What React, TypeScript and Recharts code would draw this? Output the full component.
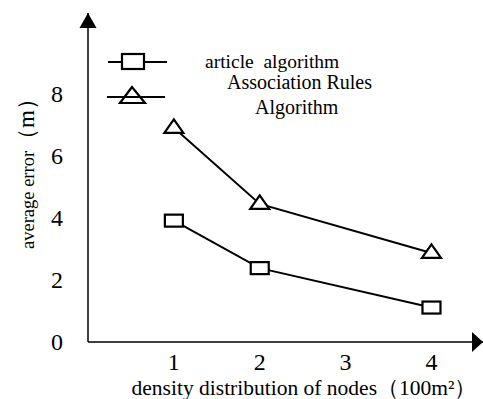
import React from "react";
import { LineChart, Line, XAxis, YAxis, ReferenceDot, Legend } from "recharts";

// node density (100 m²) where errors were measured
const densities = [1, 2, 4];
const xTicks = [1, 2, 3, 4];
const yTicks = [0, 2, 4, 6, 8];
// average error (m)
const articleError = [3.91, 2.38, 1.11];
const associationError = [6.9, 4.45, 2.87];
const legendLines = ["article  algorithm", "Association Rules", "Algorithm"];

const X_MAX = 4.6;
const Y_MAX = 10.6;
const FONT = '"Liberation Serif", serif';
const serif = (size: number): React.CSSProperties => ({ fontFamily: FONT, fontSize: size });

const data = densities.map((d, i) => ({
  density: d,
  article: articleError[i],
  association: associationError[i],
}));

const Square = (props: any) => {
  const { cx, cy, index } = props;
  if (cx == null || cy == null) return <g key={index} />;
  return (
    <rect key={index} x={cx - 9} y={cy - 6} width={18} height={12}
      fill="#fff" stroke="#000" strokeWidth={2.2} />
  );
};

const Triangle = (props: any) => {
  const { cx, cy, index } = props;
  if (cx == null || cy == null) return <g key={index} />;
  return (
    <polygon key={index}
      points={`${cx},${cy - 8.5} ${cx - 9.5},${cy + 5} ${cx + 9.5},${cy + 5}`}
      fill="#fff" stroke="#000" strokeWidth={2.2} />
  );
};

const ArrowUp = ({ cx, cy }: any) => (
  <polygon points={`${cx},${cy} ${cx - 8.5},${cy + 15} ${cx + 8.5},${cy + 15}`} fill="#000" />
);

const ArrowRight = ({ cx, cy }: any) => (
  <polygon points={`${cx},${cy} ${cx - 11},${cy - 10} ${cx - 11},${cy + 10}`} fill="#000" />
);

const YTick = ({ x, y, payload }: any) => (
  <text x={x - 23} y={y} dy={8} textAnchor="middle" style={serif(24)} fill="#000">
    {payload.value}
  </text>
);

const XTick = ({ x, y, payload }: any) => (
  <text x={x} y={y} dy={20} textAnchor="middle" style={serif(24)} fill="#000">
    {payload.value}
  </text>
);

const YLabel = () => (
  <text transform="rotate(-90, 34, 168)" x={34} y={168} textAnchor="middle" style={{ fontFamily: FONT }} fill="#000">
    <tspan style={serif(18.5)}>average error</tspan>
    <tspan style={serif(23)}>（m）</tspan>
  </text>
);

const XLabel = () => (
  <text x={304} y={395} textAnchor="middle" style={serif(21.5)} fill="#000">
    density distribution of nodes（100m²）
  </text>
);

const LegendBox = () => (
  <svg width={483} height={120} style={{ display: "block" }}>
    <line x1={108} y1={62} x2={167} y2={62} stroke="#000" strokeWidth={2} />
    <rect x={122} y={54} width={22} height={15} fill="#fff" stroke="#000" strokeWidth={2.2} />
    <line x1={107} y1={97} x2={165} y2={97} stroke="#000" strokeWidth={2} />
    <polygon points="132,87 120,103 145,103" fill="none" stroke="#000" strokeWidth={2.2} />
    <text x={205} y={68} fill="#000" style={{ ...serif(19.5), whiteSpace: "pre" }}>{legendLines[0]}</text>
    <text x={227} y={89} fill="#000" style={serif(20)}>{legendLines[1]}</text>
    <text x={255} y={114} fill="#000" style={serif(20)}>{legendLines[2]}</text>
  </svg>
);

export default function App() {
  return (
    <div style={{ width: 483, height: 399, background: "#fff" }}>
      <style>{"body{margin:0}"}</style>
      <LineChart width={483} height={399} data={data} margin={{ top: 13, right: 0, bottom: 0, left: 0 }}>
        <XAxis
          dataKey="density"
          type="number"
          domain={[0, X_MAX]}
          ticks={xTicks}
          tick={<XTick />}
          tickLine={false}
          axisLine={{ stroke: "#000", strokeWidth: 1.5 }}
          height={57}
          label={<XLabel />}
        />
        <YAxis
          type="number"
          domain={[0, Y_MAX]}
          ticks={yTicks}
          tick={<YTick />}
          tickLine={false}
          axisLine={{ stroke: "#000", strokeWidth: 1.5 }}
          width={88}
          label={<YLabel />}
        />
        <Legend
          layout="horizontal"
          verticalAlign="middle"
          align="center"
          content={<LegendBox />}
          wrapperStyle={{ top: 0, left: 0, width: 483, height: 120 }}
        />
        <ReferenceDot x={0} y={Y_MAX} ifOverflow="visible" shape={<ArrowUp />} />
        <ReferenceDot x={X_MAX} y={0} ifOverflow="visible" shape={<ArrowRight />} />
        <Line
          dataKey="association"
          name="Association Rules Algorithm"
          stroke="#000"
          strokeWidth={2}
          dot={Triangle}
          isAnimationActive={false}
        />
        <Line
          dataKey="article"
          name="article algorithm"
          stroke="#000"
          strokeWidth={2}
          dot={Square}
          isAnimationActive={false}
        />
      </LineChart>
    </div>
  );
}
